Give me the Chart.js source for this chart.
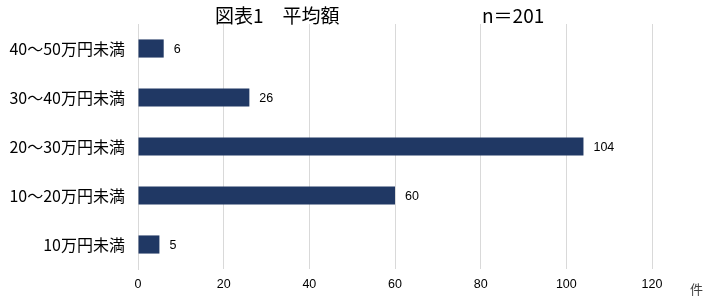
<!DOCTYPE html>
<html>
<head>
<meta charset="utf-8">
<script src="https://cdn.jsdelivr.net/npm/chart.js@4/dist/chart.umd.min.js"></script>
<style>
  html, body { margin: 0; padding: 0; background: #fff; }
  #wrap { width: 721px; height: 301px; }
</style>
</head>
<body>
<div id="wrap"><canvas id="avgChart"></canvas></div>
<script>
const categories = ["40～50万円未満", "30～40万円未満", "20～30万円未満", "10～20万円未満", "10万円未満"];
const counts = [6, 26, 104, 60, 5];
const xTicks = [0, 20, 40, 60, 80, 100, 120];

const jpFont = "'Noto Sans CJK JP', 'Noto Sans', sans-serif";

// value labels to the right of each bar, unit and title
const extraText = {
  id: "extraText",
  afterDatasetsDraw(chart) {
    const ctx = chart.ctx;
    const meta = chart.getDatasetMeta(0);
    ctx.save();
    ctx.fillStyle = "#000";
    ctx.font = "12.5px 'Liberation Sans', Arial, sans-serif";
    ctx.textBaseline = "middle";
    ctx.textAlign = "left";
    meta.data.forEach((bar, i) => {
      ctx.fillText(String(counts[i]), bar.x + 10, bar.y + 1);
    });
    // unit
    ctx.fillStyle = "#404040";
    ctx.font = "13px " + jpFont;
    ctx.fillText("件", chart.chartArea.right + 38, chart.chartArea.bottom + 20);
    // title
    ctx.fillStyle = "#000";
    ctx.font = "19px " + jpFont;
    ctx.fillText("図表1　平均額", 215, 16);
    ctx.fillText("n＝201", 482, 16);
    ctx.restore();
  },
};

new Chart(document.getElementById("avgChart"), {
  type: "bar",
  data: {
    labels: categories,
    datasets: [
      {
        data: counts,
        backgroundColor: "#203864",
        borderWidth: 0,
        categoryPercentage: 1,
        barPercentage: 0.37,
      },
    ],
  },
  options: {
    indexAxis: "y",
    responsive: true,
    maintainAspectRatio: false,
    animation: false,
    layout: { padding: { top: 24, right: 69, left: 0, bottom: 0 } },
    plugins: {
      legend: { display: false },
      tooltip: { enabled: false },
    },
    scales: {
      x: {
        min: 0,
        max: 120,
        afterBuildTicks(axis) {
          axis.ticks = xTicks.map((v) => ({ value: v }));
        },
        afterFit(axis) {
          axis.height = 32;
        },
        grid: { color: "#d9d9d9", lineWidth: 1, drawTicks: false },
        border: { display: false },
        ticks: {
          color: "#000",
          padding: 8,
          font: { family: "'Liberation Sans', Arial, sans-serif", size: 12.5 },
        },
      },
      y: {
        afterFit(axis) {
          axis.width = 138;
        },
        grid: { display: false, drawTicks: false },
        border: { display: true, color: "#d9d9d9", width: 1 },
        ticks: {
          color: "#000",
          padding: 13,
          font: { family: jpFont, size: 16 },
        },
      },
    },
  },
  plugins: [extraText],
});
</script>
</body>
</html>
